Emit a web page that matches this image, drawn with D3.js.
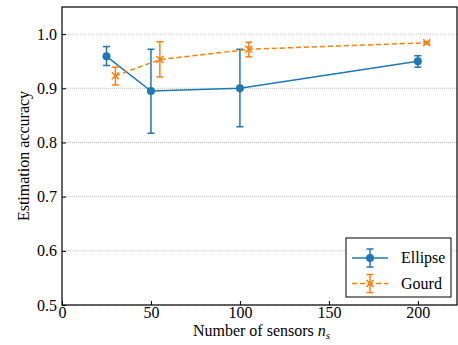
<!DOCTYPE html>
<meta charset="utf-8">
<style>
  body { margin: 0; background: white; }
</style>
<body>
<svg id="chart" width="458" height="345" font-family="Liberation Serif, Times New Roman, serif"></svg>
<script src="https://cdnjs.cloudflare.com/ajax/libs/d3/7.8.5/d3.min.js"></script>
<script>

  // data
  var ellipseX = [25, 50, 100, 200];
  var ellipseY = [0.959, 0.895, 0.900, 0.950];
  var ellipseLo = [0.942, 0.817, 0.829, 0.939];
  var ellipseHi = [0.977, 0.972, 0.972, 0.960];

  var gourdX = [30, 55, 105, 205];
  var gourdY = [0.923, 0.953, 0.972, 0.984];
  var gourdLo = [0.906, 0.921, 0.958, 0.982];
  var gourdHi = [0.939, 0.986, 0.985, 0.986];

  var xTicks = [0, 50, 100, 150, 200];
  var yTicks = [0.5, 0.6, 0.7, 0.8, 0.9, 1.0];
  var seriesNames = ['Ellipse', 'Gourd'];
  var colors = ['#1f77b4', '#ff7f0e'];

  var margin = {left: 62, right: 1, top: 7, bottom: 40};
  var width = 458, height = 345;
  var fontSize = '16px';
  var serif = 'Liberation Serif, Times New Roman, serif';

  var svg = d3.select('#chart');

  var x = d3.scaleLinear().domain([0, 222]).range([margin.left, width - margin.right]);
  var y = d3.scaleLinear().domain([0.5, 1.05]).range([height - margin.bottom, margin.top]);

  // dotted grid
  svg.append('g')
    .selectAll('line')
    .data(yTicks)
    .join('line')
    .attr('x1', margin.left)
    .attr('x2', width - margin.right)
    .attr('y1', d => y(d))
    .attr('y2', d => y(d))
    .attr('stroke', '#b0b0b0')
    .attr('stroke-width', 0.8)
    .attr('stroke-dasharray', '1,1');

  // axes, ticks inward
  var xAxis = svg.append('g')
    .attr('transform', 'translate(0,' + (height - margin.bottom) + ')')
    .call(d3.axisBottom(x).tickValues(xTicks).tickSizeInner(-4).tickSizeOuter(0).tickPadding(2));
  var yAxis = svg.append('g')
    .attr('transform', 'translate(' + margin.left + ',0)')
    .call(d3.axisLeft(y).tickValues(yTicks).tickFormat(d3.format('.1f')).tickSizeInner(-4).tickSizeOuter(0).tickPadding(5));

  [xAxis, yAxis].forEach(function (a) {
    a.attr('font-family', serif).attr('font-size', fontSize);
    a.select('.domain').remove();
    a.selectAll('text').attr('font-family', serif).attr('font-size', fontSize).attr('fill', 'black');
    a.selectAll('line').attr('stroke', 'black');
  });

  // frame
  svg.append('rect')
    .attr('x', margin.left)
    .attr('y', margin.top)
    .attr('width', width - margin.right - margin.left)
    .attr('height', height - margin.bottom - margin.top)
    .attr('fill', 'none')
    .attr('stroke', 'black')
    .attr('stroke-width', 1.2);

  var series = [
    {xs: ellipseX, ys: ellipseY, lo: ellipseLo, hi: ellipseHi, color: colors[0], dash: null, marker: 'circle'},
    {xs: gourdX, ys: gourdY, lo: gourdLo, hi: gourdHi, color: colors[1], dash: '5,3', marker: 'x'}
  ];

  var line = d3.line().x(d => x(d[0])).y(d => y(d[1]));

  series.forEach(function (s) {
    var pts = s.xs.map((v, i) => [v, s.ys[i], s.lo[i], s.hi[i]]);
    var g = svg.append('g');

    g.append('path')
      .attr('d', line(pts))
      .attr('fill', 'none')
      .attr('stroke', s.color)
      .attr('stroke-width', 1.5)
      .attr('stroke-dasharray', s.dash);

    // error bars
    g.selectAll('.eb')
      .data(pts)
      .join('line')
      .attr('x1', d => x(d[0])).attr('x2', d => x(d[0]))
      .attr('y1', d => y(d[2])).attr('y2', d => y(d[3]))
      .attr('stroke', s.color).attr('stroke-width', 1.5);
    [2, 3].forEach(function (k) {
      g.selectAll('.cap' + k)
        .data(pts)
        .join('line')
        .attr('x1', d => x(d[0]) - 3.5).attr('x2', d => x(d[0]) + 3.5)
        .attr('y1', d => y(d[k])).attr('y2', d => y(d[k]))
        .attr('stroke', s.color).attr('stroke-width', 1.5);
    });

    drawMarkers(g, pts.map(d => [x(d[0]), y(d[1])]), s);
  });

  function drawMarkers(g, xy, s) {
    if (s.marker === 'circle') {
      g.selectAll('circle.m')
        .data(xy)
        .join('circle')
        .attr('cx', d => d[0]).attr('cy', d => d[1])
        .attr('r', 4)
        .attr('fill', s.color);
    } else {
      g.selectAll('path.m')
        .data(xy)
        .join('path')
        .attr('d', d => 'M' + (d[0] - 3.5) + ',' + (d[1] - 3.5) + 'L' + (d[0] + 3.5) + ',' + (d[1] + 3.5) +
          'M' + (d[0] - 3.5) + ',' + (d[1] + 3.5) + 'L' + (d[0] + 3.5) + ',' + (d[1] - 3.5))
        .attr('stroke', s.color)
        .attr('stroke-width', 1.5);
    }
  }

  // legend
  var lg = svg.append('g').attr('transform', 'translate(346,238)');
  lg.append('rect')
    .attr('width', 105).attr('height', 59)
    .attr('fill', 'white').attr('stroke', 'black').attr('stroke-width', 1);

  series.forEach(function (s, i) {
    var cy = 20 + i * 25.5;
    var row = lg.append('g');
    row.append('line')
      .attr('x1', 6).attr('x2', 42).attr('y1', cy).attr('y2', cy)
      .attr('stroke', s.color).attr('stroke-width', 1.5)
      .attr('stroke-dasharray', s.dash);
    row.append('line')
      .attr('x1', 24).attr('x2', 24).attr('y1', cy - 9).attr('y2', cy + 9)
      .attr('stroke', s.color).attr('stroke-width', 1.5);
    [-9, 9].forEach(function (o) {
      row.append('line')
        .attr('x1', 20.5).attr('x2', 27.5).attr('y1', cy + o).attr('y2', cy + o)
        .attr('stroke', s.color).attr('stroke-width', 1.5);
    });
    drawMarkers(row, [[24, cy]], s);
    row.append('text')
      .attr('x', 55).attr('y', cy + 5)
      .attr('font-family', serif)
      .attr('font-size', fontSize)
      .text(seriesNames[i]);
  });

  // axis labels
  var xl = svg.append('text')
    .attr('x', (margin.left + width - margin.right) / 2 + 2)
    .attr('y', 336)
    .attr('text-anchor', 'middle')
    .attr('font-family', serif)
    .attr('font-size', fontSize);
  xl.append('tspan').text('Number of sensors ');
  xl.append('tspan').attr('font-style', 'italic').text('n');
  xl.append('tspan').attr('font-style', 'italic').attr('font-size', '11px').attr('dy', 3).text('s');

  svg.append('text')
    .attr('transform', 'translate(29,' + ((margin.top + height - margin.bottom) / 2) + ') rotate(-90)')
    .attr('text-anchor', 'middle')
    .attr('font-family', serif)
    .attr('font-size', fontSize)
    .text('Estimation accuracy');

</script>
</body>
